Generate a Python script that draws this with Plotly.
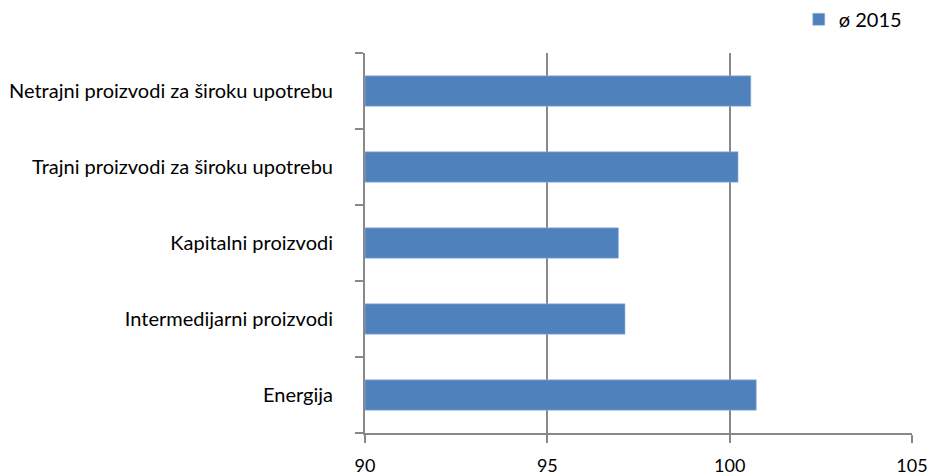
import plotly.graph_objects as go

categories = [
    "Energija",
    "Intermedijarni proizvodi",
    "Kapitalni proizvodi",
    "Trajni proizvodi za široku upotrebu",
    "Netrajni proizvodi za široku upotrebu",
]
values_2015 = [100.73, 97.13, 96.95, 100.23, 100.58]
series_name = "ø 2015"
x_ticks = [90, 95, 100, 105]
x_base = 90

fig = go.Figure()
fig.add_trace(go.Bar(
    y=categories,
    x=[v - x_base for v in values_2015],
    base=x_base,
    orientation="h",
    name=series_name,
    marker=dict(color="#4F81BD", line=dict(color="#9DB9DE", width=0.6)),
    width=0.4,
    showlegend=True,
))

fig.update_layout(
    width=928, height=475,
    margin=dict(l=365, r=16, t=53, b=42, autoexpand=False),
    paper_bgcolor="white", plot_bgcolor="white",
    font=dict(family="Lato, Open Sans, sans-serif", size=20, color="#000000"),
    showlegend=True,
    legend=dict(x=0.793, y=1.14, xanchor="left", yanchor="top",
                orientation="h", font=dict(size=20),
                itemwidth=30, bgcolor="rgba(0,0,0,0)"),
    bargap=0.6,
)
fig.update_xaxes(
    range=[90, 105], tickvals=x_ticks, ticktext=[str(t) for t in x_ticks],
    tickfont=dict(size=18),
    showgrid=True, gridcolor="#888888", gridwidth=2,
    showline=True, linecolor="#888888", linewidth=2,
    ticks="outside", ticklen=8, tickcolor="#888888", tickwidth=2,
    ticklabelstandoff=7, ticklabeloverflow="allow",
    zeroline=False, fixedrange=True, automargin=False,
)
fig.update_yaxes(
    type="category", showgrid=False,
    showline=True, linecolor="#888888", linewidth=2,
    ticks="outside", ticklen=8, tickcolor="#888888", tickwidth=2,
    tickson="boundaries", ticklabelstandoff=26,
    range=[-0.5, 4.5], fixedrange=True, automargin=False,
)
fig.write_html(
    "out.html",
    config={"displayModeBar": False},
    post_script="document.body.style.margin='0';document.body.style.overflow='hidden';",
)
